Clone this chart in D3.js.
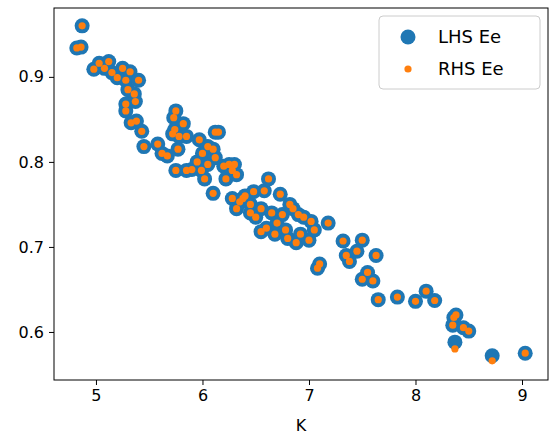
<!DOCTYPE html><html><head><meta charset="utf-8"><script src="https://cdn.jsdelivr.net/npm/d3@7"></script>
<style>body{margin:0;background:#fff}text{font-family:"DejaVu Sans",sans-serif}</style></head><body><svg id="c" width="558" height="444"></svg>
<script>
const K=[4.82,4.86,4.87,4.98,5.03,5.08,5.12,5.15,5.2,5.25,5.28,5.32,5.3,5.36,5.4,5.28,5.28,5.33,5.38,5.37,5.43,5.45,5.58,5.62,5.67,5.72,5.73,5.75,5.74,5.77,5.78,5.82,5.85,5.75,5.85,5.9,5.95,5.97,5.99,6.0,6.02,6.05,6.05,6.1,6.12,6.12,6.15,6.1,6.2,6.22,6.25,6.28,6.3,6.32,6.28,6.32,6.35,6.38,6.4,6.45,6.45,6.48,6.5,6.55,6.58,6.55,6.6,6.62,6.65,6.68,6.7,6.73,6.75,6.78,6.8,6.82,6.85,6.88,6.9,6.92,6.95,7.0,7.02,7.05,7.08,7.1,7.18,7.32,7.35,7.38,7.45,7.5,7.55,7.5,7.6,7.63,7.65,7.83,8.0,8.1,8.18,8.35,8.36,8.38,8.37,8.45,8.5,8.72,9.03];
const lhsEe=[0.934,0.935,0.960,0.909,0.916,0.910,0.918,0.905,0.899,0.910,0.896,0.906,0.885,0.880,0.896,0.868,0.860,0.846,0.848,0.871,0.836,0.818,0.821,0.810,0.807,0.833,0.852,0.860,0.838,0.815,0.830,0.845,0.830,0.790,0.790,0.791,0.800,0.826,0.790,0.810,0.780,0.797,0.818,0.815,0.805,0.835,0.835,0.763,0.795,0.780,0.797,0.790,0.797,0.785,0.757,0.745,0.753,0.757,0.760,0.750,0.740,0.765,0.735,0.745,0.766,0.718,0.722,0.780,0.740,0.715,0.728,0.762,0.738,0.720,0.710,0.750,0.745,0.705,0.738,0.715,0.735,0.708,0.730,0.720,0.675,0.680,0.728,0.707,0.690,0.683,0.695,0.662,0.670,0.708,0.660,0.690,0.638,0.641,0.636,0.648,0.637,0.608,0.617,0.620,0.588,0.605,0.601,0.572,0.575];
const rhsEe=[0.934,0.935,0.960,0.909,0.916,0.910,0.918,0.905,0.899,0.910,0.896,0.906,0.885,0.880,0.896,0.868,0.860,0.846,0.848,0.871,0.836,0.818,0.821,0.810,0.807,0.833,0.852,0.860,0.838,0.815,0.830,0.845,0.830,0.790,0.790,0.791,0.800,0.826,0.790,0.810,0.780,0.797,0.818,0.815,0.805,0.835,0.835,0.763,0.795,0.780,0.797,0.790,0.797,0.785,0.757,0.745,0.753,0.757,0.760,0.750,0.740,0.765,0.735,0.745,0.766,0.718,0.722,0.780,0.740,0.715,0.728,0.762,0.738,0.720,0.710,0.750,0.745,0.705,0.738,0.715,0.735,0.708,0.730,0.720,0.675,0.680,0.728,0.707,0.690,0.683,0.695,0.662,0.670,0.708,0.660,0.690,0.638,0.641,0.636,0.648,0.637,0.608,0.617,0.620,0.580,0.605,0.601,0.566,0.575];
const xTicks=[5,6,7,8,9], yTicks=[0.6,0.7,0.8,0.9];
const L=54,R=548,T=8,B=380;
const x=d3.scaleLinear().domain([4.606,9.244]).range([L,R]);
const y=d3.scaleLinear().domain([0.5435,0.981]).range([B,T]);
const svg=d3.select("#c");
const g=svg.append("g");
g.selectAll(".l").data(K).join("circle").attr("cx",d=>x(d)).attr("cy",(d,i)=>y(lhsEe[i])).attr("r",7.5).attr("fill","#1f77b4");
g.selectAll(".r").data(K).join("circle").attr("cx",d=>x(d)).attr("cy",(d,i)=>y(rhsEe[i])).attr("r",3.6).attr("fill","#ff7f0e");
const ax=svg.append("g").attr("transform",`translate(0,${B})`).call(d3.axisBottom(x).tickValues(xTicks).tickSize(5).tickPadding(5).tickFormat(d3.format("d")));
const ay=svg.append("g").attr("transform",`translate(${L},0)`).call(d3.axisLeft(y).tickValues(yTicks).tickSize(5).tickPadding(5).tickFormat(d3.format(".1f")));
[ax,ay].forEach(a=>{a.selectAll("text").attr("font-size",16).attr("fill","#000").attr("font-family","DejaVu Sans");a.select(".domain").remove();a.selectAll("line").attr("stroke","#000");});
svg.append("rect").attr("x",L).attr("y",T).attr("width",R-L).attr("height",B-T).attr("fill","none").attr("stroke","#000").attr("stroke-width",1);
svg.append("text").attr("x",(L+R)/2).attr("y",431).attr("text-anchor","middle").attr("font-size",16).text("K");
const lg=svg.append("g");
lg.append("rect").attr("x",379).attr("y",16).attr("width",161).attr("height",73).attr("rx",4).attr("fill","#fff").attr("fill-opacity",0.8).attr("stroke","#ccc");
lg.append("circle").attr("cx",408).attr("cy",37).attr("r",7.5).attr("fill","#1f77b4");
lg.append("circle").attr("cx",408).attr("cy",69).attr("r",3.6).attr("fill","#ff7f0e");
lg.append("text").attr("x",438).attr("y",43).attr("font-size",18).text("LHS Ee");
lg.append("text").attr("x",438).attr("y",75).attr("font-size",18).text("RHS Ee");
</script></body></html>
